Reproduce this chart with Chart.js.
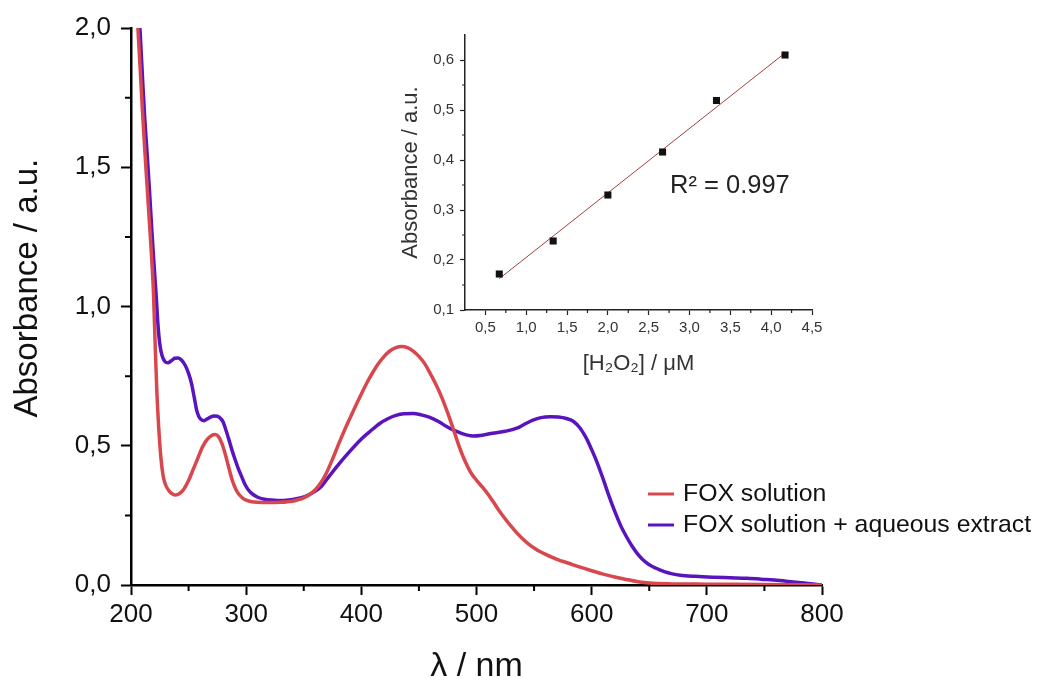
<!DOCTYPE html>
<html><head><meta charset="utf-8">
<script src="https://cdn.jsdelivr.net/npm/chart.js@4.4.1/dist/chart.umd.min.js"></script>
<style>
html,body{margin:0;padding:0;background:#fff;}
#wrap{position:relative;width:1043px;height:684px;overflow:hidden;}
#main{position:absolute;left:0;top:0;}
#inset{position:absolute;left:380px;top:20px;}
</style></head><body>
<div id="wrap"><canvas id="main" width="1043" height="684"></canvas><canvas id="inset" width="450" height="370"></canvas></div>
<script>
const FONT = "'Liberation Sans', Arial, Helvetica, 'DejaVu Sans', sans-serif";

// ---------- main chart data ----------
const seriesNames = ['FOX solution', 'FOX solution + aqueous extract'];
const seriesColors = ['#D8474D', '#5A14BE'];

const foxWavelength = [204,206,208,210,212,214,216,218,219.5,221,222.5,224,226,228,230,233,236,239,242,246,250,254,258,262,266,270,273,276,279,282,285,288,291,294,297,300,305,310,320,330,340,345,350,355,360,365,370,375,380,385,390,395,400,405,410,415,420,425,430,435,440,445,450,455,460,465,470,475,480,485,490,495,500,505,510,515,520,525,530,535,540,545,550,555,560,570,580,590,600,610,620,630,640,650,670,700,750,800];
const foxAbsorbance = [2.12,2.00,1.85,1.70,1.56,1.43,1.30,1.17,1.05,0.86,0.69,0.57,0.455,0.39,0.36,0.338,0.327,0.323,0.328,0.345,0.375,0.415,0.455,0.495,0.522,0.537,0.540,0.533,0.508,0.468,0.420,0.375,0.344,0.324,0.312,0.305,0.299,0.297,0.296,0.297,0.301,0.306,0.313,0.325,0.342,0.368,0.405,0.452,0.503,0.552,0.598,0.643,0.686,0.727,0.764,0.796,0.822,0.841,0.852,0.856,0.852,0.840,0.821,0.795,0.758,0.718,0.672,0.618,0.558,0.497,0.445,0.404,0.376,0.352,0.326,0.296,0.265,0.237,0.211,0.187,0.166,0.148,0.133,0.120,0.110,0.092,0.078,0.064,0.051,0.039,0.029,0.020,0.012,0.007,0.004,0.003,0.002,0.000];

const extractWavelength = [206,208,210,212,214,216,218,220,222,223.5,225,227,229.5,232,235,238,241,244,247,250,252.5,255,257,259,261,263.5,266,269,272,275,278,280,282,285,287.5,290,293,296,299,302,305,310,316,322,331,340,351,358,365,372,381,390,399,408,416,423,430,437,445,452,459.5,467,474,480,486,492,497,505,514,525,535,542,549,556,564,571,578,584,590,595,600,605,610,615,620,625,630,635,640,645,650,656,663,670,677,690,705,720,735,750,763,775,785,792,800];
const extractAbsorbance = [2.10,1.98,1.82,1.67,1.55,1.42,1.28,1.15,1.03,0.93,0.865,0.823,0.802,0.798,0.805,0.814,0.815,0.807,0.789,0.760,0.724,0.672,0.628,0.604,0.594,0.590,0.596,0.603,0.607,0.606,0.597,0.585,0.562,0.522,0.487,0.455,0.420,0.390,0.361,0.341,0.328,0.315,0.308,0.305,0.303,0.307,0.317,0.332,0.353,0.390,0.437,0.480,0.520,0.553,0.580,0.597,0.609,0.615,0.616,0.611,0.602,0.587,0.569,0.556,0.546,0.538,0.535,0.538,0.545,0.552,0.563,0.578,0.592,0.601,0.604,0.603,0.598,0.588,0.563,0.530,0.486,0.437,0.380,0.320,0.265,0.215,0.175,0.140,0.111,0.089,0.073,0.060,0.048,0.040,0.035,0.031,0.028,0.026,0.024,0.020,0.016,0.011,0.007,0.004,0.000];

const xTickValues = [200,300,400,500,600,700,800];
const xTickLabels = ['200','300','400','500','600','700','800'];
const xMinorTicks = [250,350,450,550,650,750];
const yTickValues = [0,0.5,1.0,1.5,2.0];
const yTickLabels = ['0,0','0,5','1,0','1,5','2,0'];
const yMinorTicks = [0.25,0.75,1.25,1.75];

// ---------- inset data ----------
const insetConcentration = [0.67,1.33,2.00,2.67,3.33,4.17];
const insetAbsorbance = [0.172,0.238,0.330,0.416,0.519,0.610];
const insetXTickValues = [0.5,1.0,1.5,2.0,2.5,3.0,3.5,4.0,4.5];
const insetXTickLabels = ['0,5','1,0','1,5','2,0','2,5','3,0','3,5','4,0','4,5'];
const insetXMinorTicks = [0.75,1.25,1.75,2.25,2.75,3.25,3.75,4.25];
const insetYTickValues = [0.1,0.2,0.3,0.4,0.5,0.6];
const insetYTickLabels = ['0,1','0,2','0,3','0,4','0,5','0,6'];
const insetYMinorTicks = [0.15,0.25,0.35,0.45,0.55];
const r2Text = 'R\u00B2 = 0.997';

// ---------- helpers ----------
function toPoints(xs, ys){ return xs.map((x,i)=>({x:x, y:ys[i]})); }

// least-squares fit line through the inset points
function linearFit(xs, ys){
  const n = xs.length;
  const mx = xs.reduce((a,b)=>a+b,0)/n, my = ys.reduce((a,b)=>a+b,0)/n;
  let sxx=0, sxy=0;
  for(let i=0;i<n;i++){ sxx += (xs[i]-mx)*(xs[i]-mx); sxy += (xs[i]-mx)*(ys[i]-my); }
  const slope = sxy/sxx, icpt = my - slope*mx;
  const x0 = Math.min(...xs), x1 = Math.max(...xs);
  return [{x:x0, y:icpt+slope*x0},{x:x1, y:icpt+slope*x1}];
}

const minorTicksPlugin = {
  id: 'minorTicks',
  afterDraw(chart, args, o){
    const ctx = chart.ctx, xs = chart.scales.x, ys = chart.scales.y;
    ctx.save();
    ctx.strokeStyle = o.color; ctx.lineWidth = o.width;
    ctx.beginPath();
    (o.x||[]).forEach(v=>{ const p = xs.getPixelForValue(v); ctx.moveTo(p, xs.top); ctx.lineTo(p, xs.top + o.len); });
    (o.y||[]).forEach(v=>{ const p = ys.getPixelForValue(v); ctx.moveTo(ys.right, p); ctx.lineTo(ys.right - o.len, p); });
    ctx.stroke();
    ctx.restore();
  }
};

const legendPlugin = {
  id: 'customLegend',
  afterDraw(chart, args, o){
    const ctx = chart.ctx;
    ctx.save();
    chart.data.datasets.forEach((ds, i)=>{
      const y = o.y + i*o.gap;
      ctx.strokeStyle = ds.borderColor; ctx.lineWidth = 3;
      ctx.beginPath(); ctx.moveTo(o.x, y); ctx.lineTo(o.x + o.len, y); ctx.stroke();
      ctx.fillStyle = o.color; ctx.font = o.font; ctx.textBaseline = 'middle'; ctx.textAlign = 'left';
      ctx.fillText(ds.label, o.x + o.len + o.textGap, y);
    });
    ctx.restore();
  }
};

const textPlugin = {
  id: 'freeText',
  afterDraw(chart, args, o){
    const ctx = chart.ctx;
    ctx.save();
    ctx.fillStyle = o.color; ctx.font = o.font; ctx.textBaseline = 'alphabetic'; ctx.textAlign = 'left';
    ctx.fillText(o.text, o.x, o.y);
    ctx.restore();
  }
};

// ---------- main chart ----------
new Chart(document.getElementById('main'), {
  type: 'line',
  data: {
    datasets: [
      {label: seriesNames[0], data: toPoints(foxWavelength, foxAbsorbance), borderColor: seriesColors[0], borderWidth: 3.5, pointRadius: 0, cubicInterpolationMode: 'monotone', fill: false, clip: 0},
      {label: seriesNames[1], data: toPoints(extractWavelength, extractAbsorbance), borderColor: seriesColors[1], borderWidth: 3.5, pointRadius: 0, cubicInterpolationMode: 'monotone', fill: false, clip: 0}
    ]
  },
  options: {
    responsive: false, animation: false, devicePixelRatio: 1,
    layout: {padding: {top: 28, right: 221, left: 0, bottom: 0}},
    plugins: {
      legend: {display: false}, tooltip: {enabled: false},
      minorTicks: {x: xMinorTicks, y: yMinorTicks, len: 6, width: 2, color: '#000'},
      customLegend: {x: 648, y: 494, gap: 31, len: 26, textGap: 9, font: '24.8px ' + FONT, color: '#111'}
    },
    scales: {
      x: {
        type: 'linear', min: 200, max: 800,
        afterBuildTicks: s => { s.ticks = xTickValues.map(v=>({value:v})); },
        afterFit: s => { s.height = 99; },
        grid: {drawOnChartArea: false, drawTicks: true, tickLength: 10, tickWidth: 2, tickColor: '#000'},
        border: {display: true, color: '#000', width: 2.5},
        ticks: {font: {family: FONT, size: 26}, color: '#111', padding: 4, maxRotation: 0,
                callback: (v, i) => xTickLabels[i]},
        title: {display: true, text: '\u03BB / nm', font: {family: FONT, size: 34, lineHeight: 1}, color: '#111', padding: {top: 0, bottom: 0}}
      },
      y: {
        type: 'linear', min: 0, max: 2,
        afterBuildTicks: s => { s.ticks = yTickValues.map(v=>({value:v})); },
        afterFit: s => { s.width = 131; },
        grid: {drawOnChartArea: false, drawTicks: true, tickLength: 10, tickWidth: 2, tickColor: '#000'},
        border: {display: true, color: '#000', width: 2.5},
        ticks: {font: {family: FONT, size: 26}, color: '#111', padding: 10,
                callback: (v, i) => yTickLabels[i]},
        title: {display: true, text: '    Absorbance / a.u.', font: {family: FONT, size: 33, lineHeight: 1}, color: '#111', padding: {top: 11, bottom: 0}}
      }
    }
  },
  plugins: [minorTicksPlugin, legendPlugin]
});

// ---------- inset chart ----------
new Chart(document.getElementById('inset'), {
  type: 'scatter',
  data: {
    datasets: [
      {label: 'data', data: toPoints(insetConcentration, insetAbsorbance), pointStyle: 'rect', pointRadius: 5, pointBackgroundColor: '#111', pointBorderColor: '#111', pointBorderWidth: 0, showLine: false, order: 0, clip: false},
      {label: 'fit', type: 'line', data: linearFit(insetConcentration, insetAbsorbance), borderColor: '#A0403F', borderWidth: 1, pointRadius: 0, fill: false, order: 1}
    ]
  },
  options: {
    responsive: false, animation: false, devicePixelRatio: 1,
    layout: {padding: {top: 13, right: 18, left: 0, bottom: 0}},
    plugins: {
      legend: {display: false}, tooltip: {enabled: false},
      minorTicks: {x: insetXMinorTicks, y: insetYMinorTicks, len: 3, width: 1.2, color: '#222'},
      freeText: {text: r2Text, x: 290, y: 173, font: '25.5px ' + FONT, color: '#222'}
    },
    scales: {
      x: {
        type: 'linear', min: 0.25, max: 4.5,
        afterBuildTicks: s => { s.ticks = insetXTickValues.map(v=>({value:v})); },
        afterFit: s => { s.height = 80; },
        grid: {drawOnChartArea: false, drawTicks: true, tickLength: 5, tickWidth: 1.2, tickColor: '#222'},
        border: {display: true, color: '#222', width: 1.5},
        ticks: {font: {family: FONT, size: 15}, color: '#333', padding: 4, maxRotation: 0,
                callback: (v, i) => insetXTickLabels[i]},
        title: {display: true, text: '[H\u2082O\u2082] / \u03BCM', font: {family: FONT, size: 22, lineHeight: 1}, color: '#333', padding: {top: 0, bottom: 15}}
      },
      y: {
        type: 'linear', min: 0.1, max: 0.65,
        afterBuildTicks: s => { s.ticks = insetYTickValues.map(v=>({value:v})); },
        afterFit: s => { s.width = 85; },
        grid: {drawOnChartArea: false, drawTicks: true, tickLength: 5, tickWidth: 1.2, tickColor: '#222'},
        border: {display: true, color: '#222', width: 1.5},
        ticks: {font: {family: FONT, size: 15}, color: '#333', padding: 6,
                callback: (v, i) => insetYTickLabels[i]},
        title: {display: true, text: 'Absorbance / a.u.', font: {family: FONT, size: 22, lineHeight: 1}, color: '#333', padding: {top: 20, bottom: 0}}
      }
    }
  },
  plugins: [minorTicksPlugin, textPlugin]
});
</script>
</body></html>
